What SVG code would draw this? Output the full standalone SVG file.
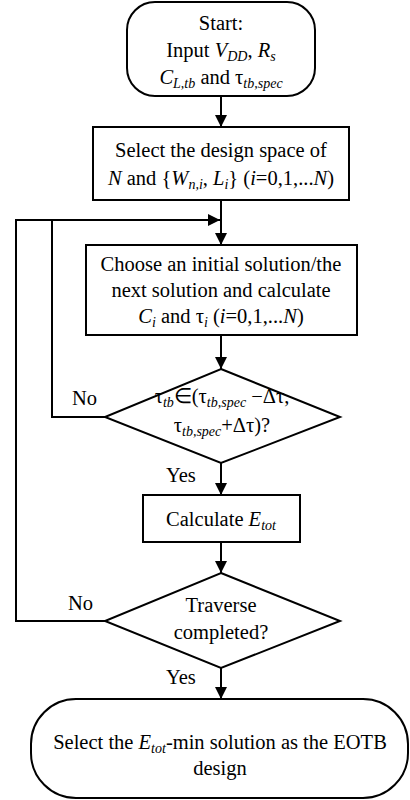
<svg xmlns="http://www.w3.org/2000/svg" width="410" height="800" viewBox="0 0 410 800" font-family="'Liberation Serif', 'Times New Roman', Times, serif">
<style>
.shape{fill:#fff;stroke:#000;stroke-width:2}
.line{fill:none;stroke:#000;stroke-width:2}
text{font-family:'Liberation Serif','Times New Roman',Times,serif;font-size:20.5px;fill:#000}
.t{text-anchor:middle}
.i{font-style:italic}
.s{font-style:italic;font-size:14px}
</style>
<defs>
<marker id="ah" viewBox="0 0 12 12" refX="12" refY="6" markerWidth="12" markerHeight="12" markerUnits="userSpaceOnUse" orient="auto">
<path d="M0,0 L12,6 L0,12 Z" fill="#000"/>
</marker>
</defs>
<rect width="410" height="800" fill="#fff"/>
<g id="connectors">
<line class="line" x1="221" y1="96" x2="221" y2="127" marker-end="url(#ah)"/>
<line class="line" x1="221" y1="200" x2="221" y2="245" marker-end="url(#ah)"/>
<polyline class="line" points="105,417 52,417 52,220"/>
<polyline class="line" points="105,621 16,621 16,220 220,220" marker-end="url(#ah)"/>
<line class="line" x1="221" y1="335" x2="221" y2="369" marker-end="url(#ah)"/>
<line class="line" x1="221" y1="463" x2="221" y2="495" marker-end="url(#ah)"/>
<line class="line" x1="221" y1="542" x2="221" y2="573" marker-end="url(#ah)"/>
<line class="line" x1="221" y1="668" x2="221" y2="699" marker-end="url(#ah)"/>
<text x="72" y="405">No</text>
<text x="166" y="482">Yes</text>
<text x="68" y="610">No</text>
<text x="166" y="684">Yes</text>
</g>
<g id="start">
<rect class="shape" x="127" y="2" width="188" height="94" rx="28" ry="28"/>
<text class="t" x="221" y="30">Start:</text>
<text class="t" x="221" y="57">Input <tspan class="i">V</tspan><tspan class="s" dy="4">DD</tspan><tspan dy="-4">, </tspan><tspan class="i">R</tspan><tspan class="s" dy="4">s</tspan></text>
<text class="t" x="221" y="84"><tspan class="i">C</tspan><tspan class="s" dy="4">L,tb</tspan><tspan dy="-4"> and τ</tspan><tspan class="s" dy="4">tb,spec</tspan></text>
</g>
<g id="space">
<rect class="shape" x="93" y="127" width="256" height="73"/>
<text class="t" x="221" y="157">Select the design space of</text>
<text class="t" x="221" y="185"><tspan class="i">N</tspan> and {<tspan class="i">W</tspan><tspan class="s" dy="4">n,i</tspan><tspan dy="-4">, </tspan><tspan class="i">L</tspan><tspan class="s" dy="4">i</tspan><tspan dy="-4">} (</tspan><tspan class="i">i</tspan>=0,1,...<tspan class="i">N</tspan>)</text>
</g>
<g id="choose">
<rect class="shape" x="86" y="245" width="271" height="90"/>
<text class="t" x="221" y="271">Choose an initial solution/the</text>
<text class="t" x="221" y="297">next solution and calculate</text>
<text class="t" x="221" y="323"><tspan class="i">C</tspan><tspan class="s" dy="4">i</tspan><tspan dy="-4"> and τ</tspan><tspan class="s" dy="4">i</tspan><tspan dy="-4"> (</tspan><tspan class="i">i</tspan>=0,1,...<tspan class="i">N</tspan>)</text>
</g>
<g id="check">
<polygon class="shape" points="221,369 340,417 221,463 105,417"/>
<text class="t" x="222" y="403">τ<tspan class="s" dy="4">tb</tspan><tspan dy="-4">∈(τ</tspan><tspan class="s" dy="4">tb,spec</tspan><tspan dy="-4"> −Δτ,</tspan></text>
<text class="t" x="222" y="432">τ<tspan class="s" dy="4">tb,spec</tspan><tspan dy="-4">+Δτ)?</tspan></text>
</g>
<g id="calc">
<rect class="shape" x="143" y="495" width="157" height="47"/>
<text class="t" x="221" y="526">Calculate <tspan class="i">E</tspan><tspan class="s" dy="4">tot</tspan></text>
</g>
<g id="traverse">
<polygon class="shape" points="221,573 340,621 221,668 105,621"/>
<text class="t" x="221" y="612">Traverse</text>
<text class="t" x="221" y="639">completed?</text>
</g>
<g id="end">
<rect class="shape" x="31" y="699" width="377" height="99" rx="45" ry="45"/>
<text class="t" x="220" y="749">Select the <tspan class="i">E</tspan><tspan class="s" dy="4">tot</tspan><tspan dy="-4">-min solution as the EOTB</tspan></text>
<text class="t" x="220" y="775">design</text>
</g>
</svg>
